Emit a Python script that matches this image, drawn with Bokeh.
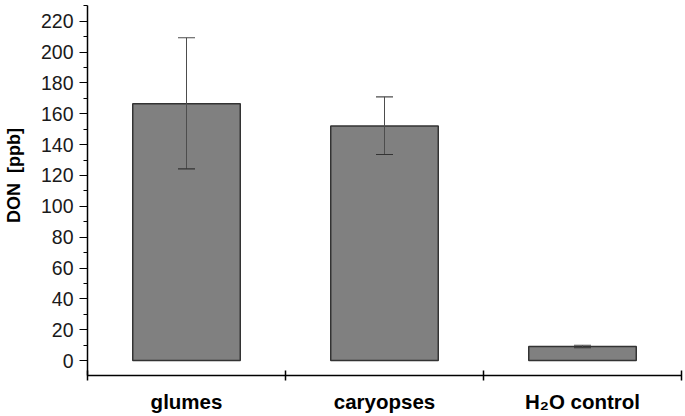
from bokeh.plotting import figure
from bokeh.models import (ColumnDataSource, Range1d, FixedTicker, Whisker, TeeHead)
from bokeh.embed import file_html
from bokeh.resources import INLINE

# ---- data ----
categories = ["glumes", "caryopses", "H\u2082O control"]
don_mean = [166.5, 152.0, 9.1]
err_upper = [209.3, 171.0, 9.9]
err_lower = [124.3, 133.6, 8.3]
y_ticks = [0, 20, 40, 60, 80, 100, 120, 140, 160, 180, 200, 220]
y_minor = [10, 30, 50, 70, 90, 110, 130, 150, 170, 190, 210, 230]

x_pos = [i + 0.5 for i in range(len(categories))]
boundaries = [float(i) for i in range(len(categories) + 1)]

src = ColumnDataSource(dict(x=x_pos, top=don_mean, upper=err_upper, lower=err_lower))

FONT = "Liberation Sans"

p = figure(width=685, height=416, output_backend="svg", toolbar_location=None,
           x_range=Range1d(0, len(categories)), y_range=Range1d(-9.7, 230.2),
           min_border_left=86, min_border_right=4, min_border_top=5, min_border_bottom=41)
p.outline_line_color = None
p.xgrid.visible = False
p.ygrid.visible = False
p.background_fill_color = "white"
p.border_fill_color = "white"

p.vbar(x="x", top="top", bottom=0, width=0.543, source=src,
       fill_color="#808080", line_color="#333333", line_width=1.5)

w = Whisker(source=src, base="x", upper="upper", lower="lower",
            line_color="#4d4d4d", line_width=1,
            upper_head=TeeHead(size=17, line_color="#4d4d4d", line_width=1.2),
            lower_head=TeeHead(size=17, line_color="#333333", line_width=1.2))
w.level = "overlay"
p.add_layout(w)

# x axis
xa = p.xaxis[0]
xa.ticker = FixedTicker(ticks=x_pos, minor_ticks=boundaries)
xa.major_label_overrides = {x: c for x, c in zip(x_pos, categories)}
xa.major_tick_in = 0
xa.major_tick_out = 0
xa.minor_tick_in = 5
xa.minor_tick_out = 5
xa.minor_tick_line_color = "black"
xa.minor_tick_line_width = 1.5
xa.axis_line_color = "black"
xa.axis_line_width = 1.5
xa.major_label_text_font = FONT
xa.major_label_text_font_style = "bold"
xa.major_label_text_font_size = "20.5px"
xa.major_label_text_color = "black"
xa.major_label_standoff = 9

# y axis
ya = p.yaxis[0]
ya.ticker = FixedTicker(ticks=y_ticks, minor_ticks=y_minor)
ya.major_tick_in = 0
ya.major_tick_out = 8
ya.minor_tick_in = 0
ya.minor_tick_out = 4
ya.major_tick_line_color = "black"
ya.minor_tick_line_color = "black"
ya.major_tick_line_width = 1.2
ya.minor_tick_line_width = 1.2
ya.axis_line_color = "black"
ya.axis_line_width = 1.5
ya.major_label_text_font = FONT
ya.major_label_text_font_size = "19.5px"
ya.major_label_text_color = "#1a1a1a"
ya.major_label_standoff = 6
ya.axis_label = "\u00a0\u00a0\u00a0\u00a0\u00a0\u00a0DON\u00a0\u00a0[ppb]"
ya.axis_label_text_font = FONT
ya.axis_label_text_font_style = "bold"
ya.axis_label_text_font_size = "18px"
ya.axis_label_text_color = "black"
ya.axis_label_standoff = 14

open("out.html", "w").write(file_html(p, INLINE))
